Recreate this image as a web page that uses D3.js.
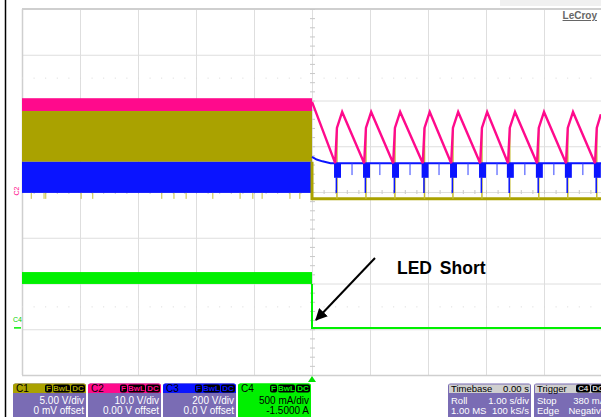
<!DOCTYPE html>
<html>
<head>
<meta charset="utf-8">
<script src="https://cdn.jsdelivr.net/npm/d3@7"></script>
<style>
  body { margin: 0; background: #fff; }
  svg { display: block; font-family: 'Liberation Sans', Arial, sans-serif; }
</style>
</head>
<body>
<svg id="scope" width="601" height="417"></svg>
<script>
// roll mode, 1 s/div, trigger at centre (t = 0)
const timeDomain = [-5, 5]
const divDomain = [-4, 4]

// bands before the short: [low, high] in divisions
const c2Band = [1.77, 2.05]
const c1Band = [0.66, 1.77]
const c3Band = [-0.02, 0.66]
const c4Band = [-2.01, -1.75]

// C2 (output voltage) after the short: hiccup sawtooth [t, div]
const c2After = [
  [0, 1.97], [0.40, 0.63], [0.43, 1.40], [0.52, 1.75],
  [0.90, 0.63], [0.93, 1.40], [1.02, 1.75],
  [1.40, 0.63], [1.43, 1.40], [1.52, 1.75],
  [1.91, 0.63], [1.94, 1.40], [2.03, 1.75],
  [2.40, 0.63], [2.43, 1.40], [2.52, 1.75],
  [2.90, 0.63], [2.93, 1.40], [3.02, 1.75],
  [3.38, 0.63], [3.41, 1.40], [3.50, 1.75],
  [3.88, 0.63], [3.91, 1.40], [4.00, 1.75],
  [4.38, 0.63], [4.41, 1.40], [4.50, 1.75],
  [4.88, 0.63], [4.91, 1.40], [4.98, 1.70]
]
const c1AfterLevel = -0.15
const c1Restarts = [0.43, 0.93, 1.43, 1.94, 2.43, 2.93, 3.41, 3.91, 4.41, 4.91]
const c1RestartTop = 1.40
const c1Glitches = [-4.84, -4.62, -4.59, -3.98, -3.78, -2.59, -2.38, -2.17, -1.71, -1.24, -1.02, -0.86, -0.38, -0.21]

const c3After = [[0, 0.77], [0.08, 0.71], [0.18, 0.67], [0.32, 0.63], [5, 0.63]]
const c3Bursts = [0.40, 0.90, 1.40, 1.91, 2.40, 2.90, 3.38, 3.88, 4.38, 4.88]
const c3BurstLow = 0.31
const c3SpikeLow = -0.02
const c3Glitches = [0.69, 1.17, 1.69, 2.19, 2.69, 3.19, 3.67, 4.17, 4.67]
const c3GlitchLow = 0.37

const c4AfterLevel = -2.97

const channels = [
  { name: 'C1', color: '#aaa200', body: '#7a6cb4', lines: ['5.00 V/div', '0 mV offset'] },
  { name: 'C2', color: '#ff0a8c', body: '#7a6cb4', lines: ['10.0 V/div', '0.00 V offset'] },
  { name: 'C3', color: '#0a14ff', body: '#7a6cb4', lines: ['200 V/div', '0.0 V offset'] },
  { name: 'C4', color: '#00f000', body: '#00f000', lines: ['500 mA/div', '-1.5000 A'] }
]
const badges = ['F', 'BwL', 'DC']
const timebase = { head: ['Timebase', '0.00 s'], rows: [['Roll', '1.00 s/div'], ['1.00 MS', '100 kS/s']] }
const trigger = { head: ['Trigger', ''], badges: ['C4', 'DC'], rows: [['Stop', '380 mA'], ['Edge', 'Negative']] }

const svg = d3.select('#scope')
const x = d3.scaleLinear().domain(timeDomain).range([22, 602])
const y = d3.scaleLinear().domain(divDomain).range([375, 9])

// page border on the left
svg.append('line').attr('x1', 5.5).attr('x2', 5.5).attr('y1', 0).attr('y2', 417)
  .attr('stroke', '#000').attr('stroke-width', 1.5)
svg.append('rect').attr('x', 500).attr('y', 0).attr('width', 101).attr('height', 6).attr('fill', '#f0f0f0')

// grid
const grid = svg.append('g')
grid.selectAll('.vx').data(x.ticks(10)).enter().append('line')
  .attr('x1', d => x(d) + 0.5).attr('x2', d => x(d) + 0.5)
  .attr('y1', y(4)).attr('y2', y(-4))
  .attr('stroke', '#dedede')
grid.selectAll('.hy').data(y.ticks(8)).enter().append('line')
  .attr('x1', x(-5)).attr('x2', 601)
  .attr('y1', d => y(d) + 0.5).attr('y2', d => y(d) + 0.5)
  .attr('stroke', '#dedede')
grid.append('line').attr('x1', x(-5)).attr('x2', 601).attr('y1', y(4)).attr('y2', y(4))
  .attr('stroke', '#cfcfcf').attr('stroke-width', 2)
grid.append('line').attr('x1', x(-5)).attr('x2', 601).attr('y1', y(-4) + 0.5).attr('y2', y(-4) + 0.5)
  .attr('stroke', '#cfcfcf').attr('stroke-width', 1.5)
grid.append('line').attr('x1', x(-5) + 0.5).attr('x2', x(-5) + 0.5).attr('y1', y(4)).attr('y2', y(-4))
  .attr('stroke', '#cfcfcf').attr('stroke-width', 1.5)

// minor ticks on the centre axes
const minorT = d3.range(-25, 26).map(i => i / 5)
const minorV = d3.range(-20, 21).map(i => i / 5)
grid.selectAll('.mt').data(minorT).enter().append('line')
  .attr('x1', d => x(d) + 0.5).attr('x2', d => x(d) + 0.5)
  .attr('y1', y(0) - 2).attr('y2', y(0) + 2).attr('stroke', '#c8c8c8')
grid.selectAll('.mv').data(minorV).enter().append('line')
  .attr('x1', x(0) - 2).attr('x2', x(0) + 3)
  .attr('y1', d => y(d) + 0.5).attr('y2', d => y(d) + 0.5).attr('stroke', '#c8c8c8')
grid.selectAll('.dt').data([2.5, -2.5]).enter().append('line')
  .attr('x1', x(-5)).attr('x2', 601)
  .attr('y1', d => y(d) + 0.5).attr('y2', d => y(d) + 0.5)
  .attr('stroke', '#d8d8d8').attr('stroke-dasharray', '1,10.6')

svg.append('text').attr('x', 597).attr('y', 19).attr('text-anchor', 'end')
  .attr('font-size', 10).attr('font-weight', 'bold').attr('fill', '#666')
  .attr('text-decoration', 'underline').text('LeCroy')

// traces
const tr = svg.append('g')
function band(b, color) {
  tr.append('rect').attr('x', x(-5)).attr('width', x(0) - x(-5))
    .attr('y', y(b[1])).attr('height', y(b[0]) - y(b[1])).attr('fill', color)
}
const line = d3.line().x(d => x(d[0])).y(d => y(d[1]))

band(c2Band, '#ff0a8c')
band(c1Band, '#aaa200')
band(c3Band, '#0a14ff')
band(c4Band, '#00f000')

tr.selectAll('.g1').data(c1Glitches).enter().append('line')
  .attr('x1', d => x(d)).attr('x2', d => x(d))
  .attr('y1', y(c3Band[0])).attr('y2', y(c1AfterLevel))
  .attr('stroke', '#c8c040').attr('stroke-width', 1)

// C1 after short
tr.append('path').datum([[0, c1Band[0]], [0, c1AfterLevel], [5, c1AfterLevel]])
  .attr('d', line).attr('fill', 'none').attr('stroke', '#aaa200').attr('stroke-width', 3)
tr.selectAll('.r1').data(c1Restarts).enter().append('line')
  .attr('x1', d => x(d)).attr('x2', d => x(d))
  .attr('y1', y(c1AfterLevel)).attr('y2', y(c1RestartTop))
  .attr('stroke', '#c4ba30').attr('stroke-width', 1.5)

// C3 after short
tr.append('path').datum(c3After)
  .attr('d', line).attr('fill', 'none').attr('stroke', '#0a14ff').attr('stroke-width', 2)
tr.selectAll('.b3').data(c3Bursts).enter().append('rect')
  .attr('x', d => x(d - 0.02)).attr('width', d => x(d + 0.10) - x(d - 0.02))
  .attr('y', y(c3After[c3After.length - 1][1])).attr('height', y(c3BurstLow) - y(c3After[c3After.length - 1][1]))
  .attr('fill', '#0a14ff')
tr.selectAll('.s3').data(c3Bursts).enter().append('line')
  .attr('x1', d => x(d + 0.02)).attr('x2', d => x(d + 0.02))
  .attr('y1', y(c3BurstLow)).attr('y2', y(c3SpikeLow))
  .attr('stroke', '#0a14ff').attr('stroke-width', 1.5)
tr.selectAll('.gl3').data(c3Glitches).enter().append('line')
  .attr('x1', d => x(d)).attr('x2', d => x(d))
  .attr('y1', y(0.63)).attr('y2', y(c3GlitchLow))
  .attr('stroke', '#3040ff').attr('stroke-width', 1)

// C2 after short
tr.append('path').datum(c2After)
  .attr('d', line).attr('fill', 'none').attr('stroke', '#ff0a8c').attr('stroke-width', 2.4)

// C4 after short
tr.append('path').datum([[0, c4Band[0]], [0, c4AfterLevel], [5, c4AfterLevel]])
  .attr('d', line).attr('fill', 'none').attr('stroke', '#00f000').attr('stroke-width', 2)

// ground markers
svg.append('text').attr('transform', `translate(19,${y(0) - 1}) rotate(-90)`)
  .attr('font-size', 7).attr('fill', '#ff0a8c').attr('text-anchor', 'middle').text('C2')
svg.append('text').attr('x', 13).attr('y', y(-2.85))
  .attr('font-size', 7).attr('fill', '#00d000').text('C4')
svg.append('line').attr('x1', 14).attr('x2', 21).attr('y1', y(-2.97)).attr('y2', y(-2.97))
  .attr('stroke', '#00f000').attr('stroke-width', 1.5)

// trigger marker
svg.append('path').attr('d', `M${x(0)},376 l-4,6 l8,0 z`).attr('fill', '#00e000')

// annotation
const defs = svg.append('defs')
defs.append('marker').attr('id', 'ah').attr('viewBox', '0 0 10 10')
  .attr('refX', 9).attr('refY', 5).attr('markerWidth', 6).attr('markerHeight', 6)
  .attr('orient', 'auto').append('path').attr('d', 'M0,0 L10,5 L0,10 z').attr('fill', '#000')
svg.append('line').attr('x1', 375).attr('y1', 258).attr('x2', 316).attr('y2', 320)
  .attr('stroke', '#000').attr('stroke-width', 2).attr('marker-end', 'url(#ah)')
svg.append('text').attr('x', 397).attr('y', 274).attr('font-size', 17.5).attr('font-weight', 'bold')
  .attr('word-spacing', 3).attr('fill', '#000').text('LED Short')

// bottom panels
const badgeW = { F: 7, BwL: 17, DC: 14, C4: 14 }
function badgeRow(g, list, right, textFill) {
  let cx = right
  list.slice().reverse().forEach(b => {
    const w = badgeW[b]
    cx -= w
    g.append('rect').attr('x', cx).attr('y', 384.5).attr('width', w).attr('height', 8)
      .attr('rx', 2).attr('fill', '#000')
    g.append('text').attr('x', cx + w / 2).attr('y', 391.3).attr('text-anchor', 'middle')
      .attr('font-size', 8).attr('font-weight', 'bold').attr('fill', textFill).text(b)
    cx -= 1
  })
}
const panels = svg.append('g')
channels.forEach((c, i) => {
  const x0 = 13 + i * 75, w = 73
  const g = panels.append('g')
  g.append('rect').attr('x', x0).attr('y', 383.5).attr('width', w).attr('height', 40).attr('rx', 2.5).attr('fill', c.body)
  g.append('path').attr('d', `M${x0},393 v-7 q0,-2.5 2.5,-2.5 h${w - 5} q2.5,0 2.5,2.5 v7 z`).attr('fill', c.color)
  g.append('text').attr('x', x0 + 3).attr('y', 392).attr('font-size', 10).attr('fill', '#000').text(c.name)
  badgeRow(g, badges, x0 + w - 1, c.color)
  c.lines.forEach((t, j) => {
    g.append('text').attr('x', x0 + w - 2).attr('y', 403.5 + j * 10.5).attr('text-anchor', 'end')
      .attr('font-size', 10).attr('fill', c.name === 'C4' ? '#000' : '#fff').text(t)
  })
})
;[[timebase, 448, 83], [trigger, 534, 74]].forEach(([p, x0, w]) => {
  const g = panels.append('g')
  g.append('rect').attr('x', x0).attr('y', 383.5).attr('width', w).attr('height', 40).attr('rx', 2.5).attr('fill', '#7a6cb4')
  g.append('rect').attr('x', x0 + 1).attr('y', 384.5).attr('width', w - 2).attr('height', 8.5).attr('fill', '#cfcfcf')
  g.append('text').attr('x', x0 + 3).attr('y', 392).attr('font-size', 9.5).attr('fill', '#000').text(p.head[0])
  g.append('text').attr('x', x0 + w - 2).attr('y', 392).attr('text-anchor', 'end')
    .attr('font-size', 9.5).attr('fill', '#000').text(p.head[1])
  if (p.badges) {
    let bx = x0 + 42
    p.badges.forEach(b => {
      const bw = badgeW[b]
      g.append('rect').attr('x', bx).attr('y', 384.5).attr('width', bw).attr('height', 8).attr('rx', 2).attr('fill', '#000')
      g.append('text').attr('x', bx + bw / 2).attr('y', 391.3).attr('text-anchor', 'middle')
        .attr('font-size', 8).attr('font-weight', 'bold').attr('fill', '#cfcfcf').text(b)
      bx += bw + 1
    })
  }
  p.rows.forEach((r, j) => {
    g.append('text').attr('x', x0 + 3).attr('y', 403.5 + j * 10.5).attr('font-size', 9.5).attr('fill', '#fff').text(r[0])
    g.append('text').attr('x', x0 + w - 2).attr('y', 403.5 + j * 10.5).attr('text-anchor', 'end')
      .attr('font-size', 9.5).attr('fill', '#fff').text(r[1])
  })
})
</script>
</body>
</html>
